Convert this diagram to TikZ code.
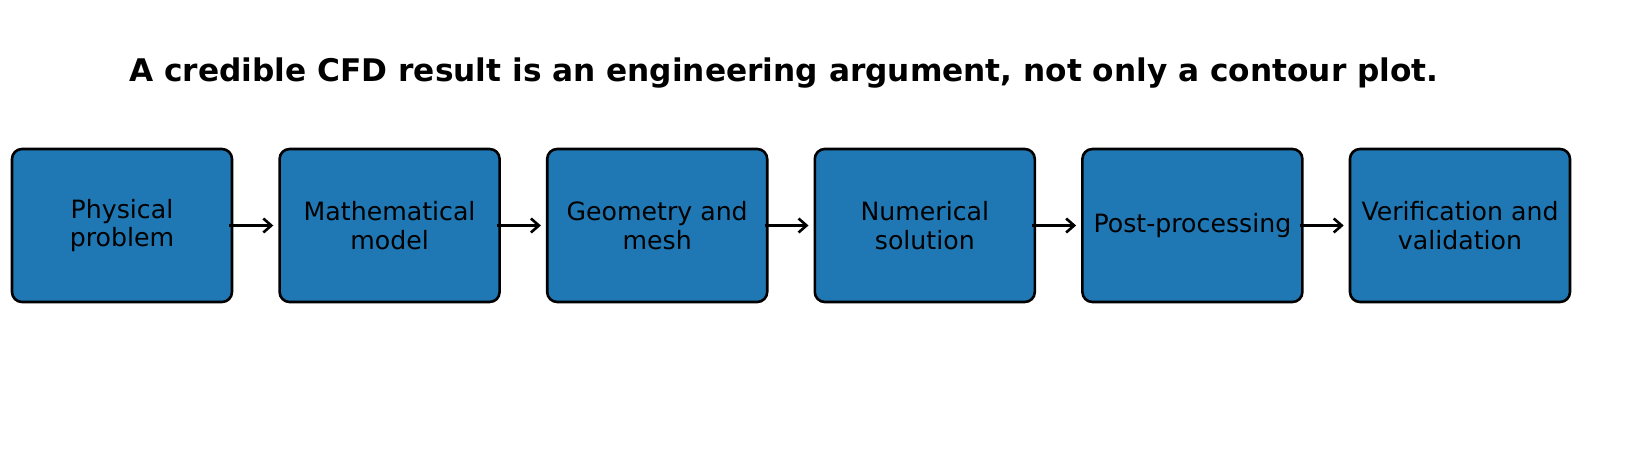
\documentclass[tikz,border=0pt]{standalone}
\usepackage{fontspec}
\setmainfont{DejaVu Sans}
\usetikzlibrary{arrows.meta, positioning}
\definecolor{stepblue}{HTML}{1F77B4}

\begin{document}
\begin{tikzpicture}[x=1pt, y=1pt,
  stage/.style={draw=black, line width=1.3pt, fill=stepblue, rounded corners=5pt,
    minimum width=110pt, minimum height=76.5pt, inner sep=0pt, align=center,
    font=\fontsize{12.6}{14.2}\selectfont},
  flow/.style={-{Straight Barb[length=4pt, width=7pt]}, line width=1.3pt}]

\useasboundingbox (0,0) rectangle (819,236);

% title
\node[font=\fontsize{15.6}{17}\selectfont\bfseries] (title) at (392,199.5)
  {A credible CFD result is an engineering argument, not only a contour plot.};

% pipeline stages
\node[stage] (phys) at (61,123.25) {Physical\\problem};
\node[stage, right=22.5pt of phys] (math) {Mathematical\\model};
\node[stage, right=22.5pt of math] (mesh) {Geometry and\\mesh};
\node[stage, right=22.5pt of mesh] (num) {Numerical\\solution};
\node[stage, right=22.5pt of num] (post) {Post-processing};
\node[stage, right=22.5pt of post] (vv) {Verification and\\validation};

% arrows
\foreach \a/\b in {phys/math, math/mesh, mesh/num, num/post, post/vv}
  \draw[flow] ([xshift=-2pt]\a.east) -- ([xshift=-2.5pt]\b.west);

\end{tikzpicture}
\end{document}
